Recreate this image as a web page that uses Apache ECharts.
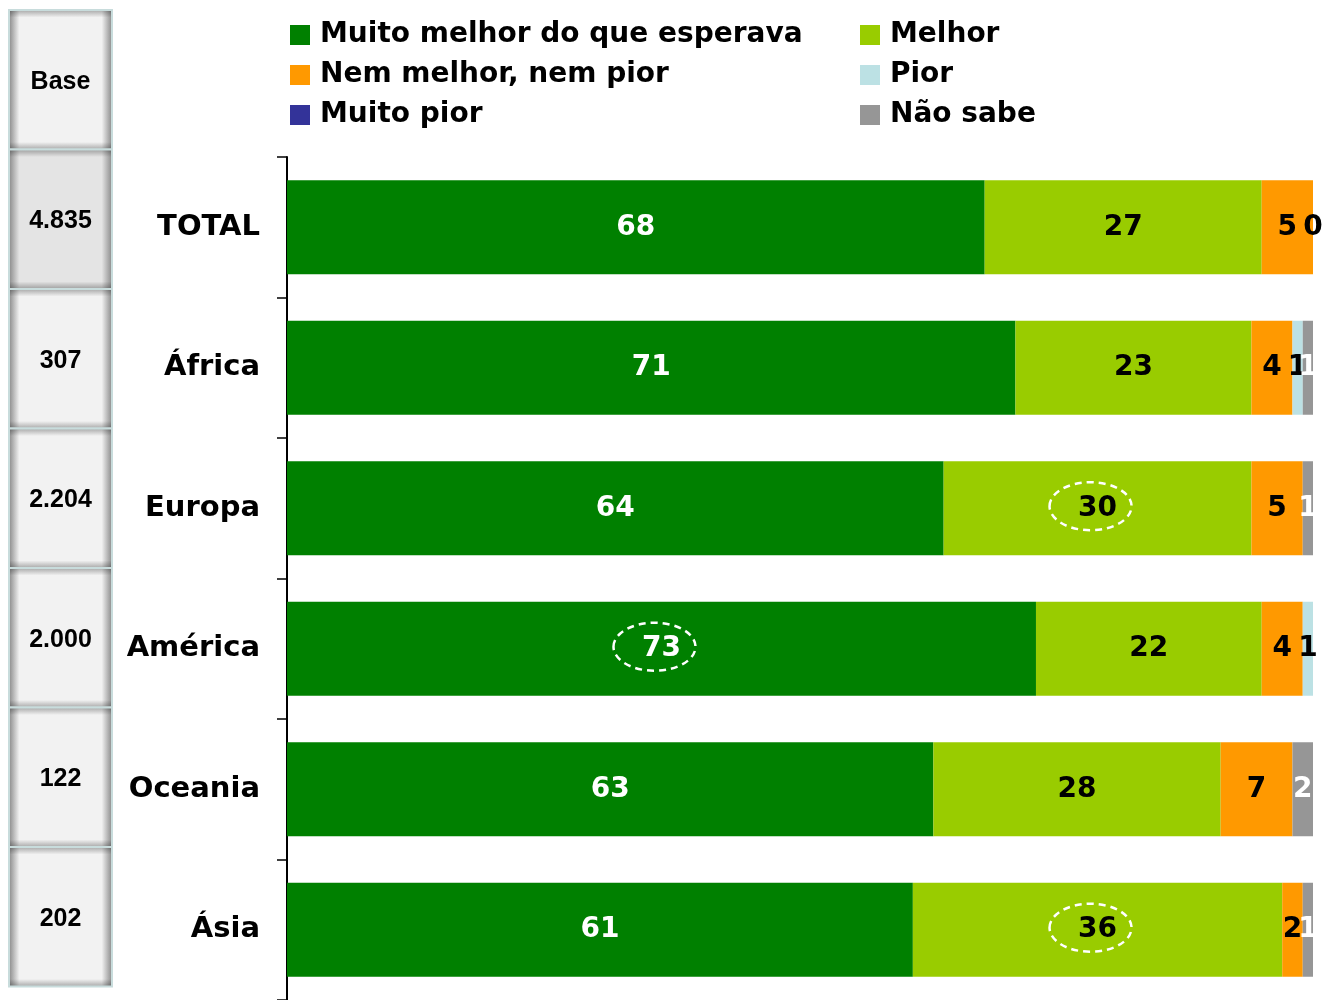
<!DOCTYPE html>
<html><head><meta charset="utf-8">
<script src="https://cdn.jsdelivr.net/npm/echarts@6/dist/echarts.min.js"></script>
<style>html,body{margin:0;padding:0;background:#fff}#c{width:1326px;height:1000px}</style>
</head><body><div id="c"></div>
<script>
const categories = ['TOTAL','África','Europa','América','Oceania','Ásia'];
const baseTitle = 'Base';
const bases = ['4.835','307','2.204','2.000','122','202'];
const seriesNames = ['Muito melhor do que esperava','Melhor','Nem melhor, nem pior','Pior','Muito pior','Não sabe'];
const muitoMelhor = [68,71,64,73,63,61];
const melhor = [27,23,30,22,28,36];
const nem = [5,4,5,4,7,2];
const pior = [0,1,null,1,null,null];
const muitoPior = [null,null,null,null,null,null];
const naoSabe = [null,1,1,null,2,1];
// circled values: [series index, category]
const highlights = [[1,'Europa'],[0,'América'],[1,'Ásia']];

const values = [muitoMelhor, melhor, nem, pior, muitoPior, naoSabe];
const colors = ['#008000','#99cc00','#ff9900','#bce1e4','#333399','#969696'];
const labelColors = ['#fff','#000','#000','#000','#fff','#fff'];
const FONT = '"DejaVu Sans", sans-serif';

const chart = echarts.init(document.getElementById('c'));
const series = seriesNames.map((n,i)=>({
  name:n, type:'bar', stack:'all', data: values[i], barWidth:'67%',
  itemStyle:{color:colors[i]},
  label:{show:true, position:'inside', color:labelColors[i], fontSize:28, fontWeight:'bold', fontFamily:FONT,
    formatter:p=> (p.value===null||p.value===undefined)?'':String(p.value)},
  emphasis:{disabled:true}
}));
const legendText = {fontSize:28, fontWeight:'bold', fontFamily:FONT, color:'#000', lineHeight:20, padding:[0,0,0,5]};
chart.setOption({
  animation:false,
  grid:{left:287, right:13, top:157, bottom:0},
  legend:[
    {orient:'vertical', left:285, top:16, itemWidth:20, itemHeight:20, itemGap:12, icon:'rect',
     data:[seriesNames[0],seriesNames[2],seriesNames[4]], textStyle:legendText, selectedMode:false},
    {orient:'vertical', left:855, top:16, itemWidth:20, itemHeight:20, itemGap:12, icon:'rect',
     data:[seriesNames[1],seriesNames[3],seriesNames[5]], textStyle:legendText, selectedMode:false}
  ],
  xAxis:{type:'value', min:0, max:100, show:false},
  yAxis:{type:'category', data:categories, inverse:true,
    axisLine:{show:true, lineStyle:{color:'#000', width:2}},
    axisTick:{show:true, length:10, lineStyle:{color:'#000', width:1.5}},
    axisLabel:{margin:27, fontSize:29, fontWeight:'bold', fontFamily:FONT, color:'#000'}},
  series
});

const g = [];
// Base column
const cellTop = 10, cellH = 139.5, cellX = 9, cellW = 103;
const baseTexts = [baseTitle].concat(bases);
baseTexts.forEach((t,i)=>{
  const y = cellTop + i*cellH;
  const mid = i===1 ? '#e4e4e4' : '#f2f2f2';
  g.push({type:'rect', shape:{x:cellX,y:y,width:cellW,height:cellH}, silent:true,
    style:{fill:new echarts.graphic.LinearGradient(0,0,1,0,[
      {offset:0,color:'#8a8a8a'},{offset:0.1,color:mid},{offset:0.9,color:mid},{offset:1,color:'#8a8a8a'}])}});
  g.push({type:'rect', shape:{x:cellX,y:y,width:cellW,height:cellH}, silent:true,
    style:{fill:new echarts.graphic.LinearGradient(0,0,0,1,[
      {offset:0,color:'rgba(0,0,0,0.35)'},{offset:0.06,color:'rgba(0,0,0,0)'},
      {offset:0.94,color:'rgba(0,0,0,0)'},{offset:1,color:'rgba(0,0,0,0.35)'}]),
      stroke:'#c8dcdc', lineWidth:2}});
  g.push({type:'text', silent:true, style:{text:t, x:cellX+cellW/2, y:y+cellH/2+2,
    align:'center', verticalAlign:'middle', fill:'#000', font:'bold 25px "Liberation Sans", Arial, sans-serif'}});
});
// dashed ellipses
highlights.forEach(([si,cat])=>{
  const ci = categories.indexOf(cat);
  let start = 0;
  for(let k=0;k<si;k++) start += values[k][ci]||0;
  const p = chart.convertToPixel({gridIndex:0},[start+values[si][ci]/2, ci]);
  g.push({type:'ellipse', silent:true, z:100, shape:{cx:p[0]-7, cy:p[1]-2, rx:41, ry:24},
    style:{fill:'none', stroke:'#fff', lineWidth:2.5, lineDash:[7,5]}});
});
chart.setOption({graphic:g});
</script></body></html>
